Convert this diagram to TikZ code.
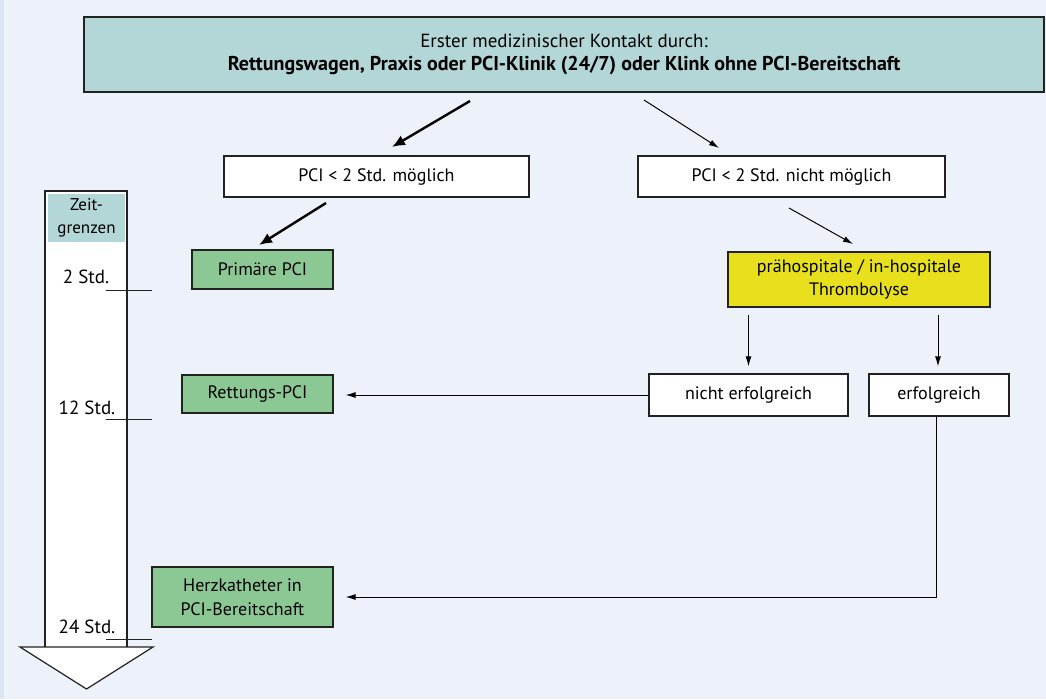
\documentclass[tikz,border=0pt]{standalone}
\usepackage{fontspec}
\setmainfont{PT Sans}
\usetikzlibrary{arrows.meta,calc}
\definecolor{bg}{HTML}{EDF2FA}
\definecolor{bgedge}{HTML}{DDE7F4}
\definecolor{teal}{HTML}{B3D7D6}
\definecolor{grn}{HTML}{8CC894}
\definecolor{yel}{HTML}{E8E01C}
\definecolor{ln}{HTML}{222222}
\tikzset{
  box/.style={draw=ln, line width=1.3pt, inner sep=0pt, align=center, font=\fontsize{18}{23.5}\selectfont},
  wbox/.style={box, fill=white},
  gbox/.style={box, fill=grn},
  ybox/.style={box, fill=yel},
  tbox/.style={box, fill=teal},
  thick arr/.style={line width=2.4pt, -{Latex[length=13pt,width=11pt]}},
  thin arr/.style={line width=1pt, -{Latex[length=10pt,width=6pt]}},
  tick/.style={draw=ln, line width=1pt},
  lab/.style={inner sep=0pt, font=\fontsize{19}{22}\selectfont}
}
\begin{document}
\begin{tikzpicture}[x=1pt,y=-1pt]
\fill[bg] (0,0) rectangle (1046,699);
\fill[bgedge] (0,0) rectangle (4,699);
\useasboundingbox (0,0) rectangle (1046,699);
% nodes
\node[tbox, minimum width=960pt, minimum height=75pt, font=\fontsize{19}{23}\selectfont] (top) at (564,54.5)
  {Erster medizinischer Kontakt durch:\\\fontsize{20}{23}\selectfont\textbf{Rettungswagen, Praxis oder PCI-Klinik (24/7) oder Klink ohne PCI-Bereitschaft}};
\node[wbox, minimum width=305pt, minimum height=41pt] (b1) at (376.5,176.5) {PCI < 2 Std. möglich};
\node[wbox, minimum width=307pt, minimum height=41pt] (b2) at (791.5,176.5) {PCI < 2 Std. nicht möglich};
\node[gbox, minimum width=141pt, minimum height=39pt] (prim) at (262.5,269.5) {Primäre PCI};
\node[ybox, minimum width=262pt, minimum height=55pt] (thr) at (859,279.5) {prähospitale / in-hospitale\\Thrombolyse};
\node[wbox, minimum width=199pt, minimum height=42pt] (nicht) at (748.5,395) {nicht erfolgreich};
\node[wbox, minimum width=140pt, minimum height=42pt] (erf) at (939,395) {erfolgreich};
\node[gbox, minimum width=151pt, minimum height=38pt] (rett) at (257.5,394) {Rettungs-PCI};
\node[gbox, minimum width=181pt, minimum height=60pt] (herz) at (242.5,597) {Herzkatheter in\\PCI-Bereitschaft};
% time column
\fill[white] (45,191) rectangle (127,647);
\draw[ln, line width=1.3pt] (45,647) -- (45,191) -- (127,191) -- (127,647);
\node[fill=teal, minimum width=77pt, minimum height=48pt, inner sep=0pt, align=center,
  font=\fontsize{17}{23}\selectfont] (zeit) at (86.5,218) {Zeit-\\grenzen};
\draw[ln, line width=1.2pt, fill=white] (20,647) -- (153,647) -- (86.5,689) -- cycle;
\node[lab] (t2) at (86,277) {2 Std.};
\node[lab] (t12) at (87,408) {12 Std.};
\node[lab] (t24) at (87,627) {24 Std.};
\coordinate (k2a) at (106,290); \coordinate (k2b) at (152,290);
\coordinate (k12a) at (106,419); \coordinate (k12b) at (152,419);
\coordinate (k24a) at (106,639); \coordinate (k24b) at (152,639);
\draw[tick] (k2a) -- (k2b);
\draw[tick] (k12a) -- (k12b);
\draw[tick] (k24a) -- (k24b);
% arrows
\coordinate (a1s) at (470,101); \coordinate (a1e) at (392,147);
\coordinate (a2s) at (644,100); \coordinate (a2e) at (719,148);
\coordinate (a3s) at (326,203); \coordinate (a3e) at (259,245);
\coordinate (a4s) at (789,208); \coordinate (a4e) at (853,244);
\draw[thick arr] (a1s) -- (a1e);
\draw[thin arr] (a2s) -- (a2e);
\draw[thick arr] (a3s) -- (a3e);
\draw[thin arr] (a4s) -- (a4e);
\draw[thin arr, shorten <=7pt, shorten >=7pt] (nicht.north |- thr.south) -- (nicht.north);
\draw[thin arr, shorten <=7pt, shorten >=7pt] ($(erf.north |- thr.south)+(-1,0)$) -- ($(erf.north)+(-1,0)$);
\draw[thin arr, shorten >=12pt] (nicht.west) -- (nicht.west -| rett.east);
\draw[thin arr, shorten >=12pt] ($(erf.south)+(-3,0)$) |- (herz.east);
\end{tikzpicture}
\end{document}
